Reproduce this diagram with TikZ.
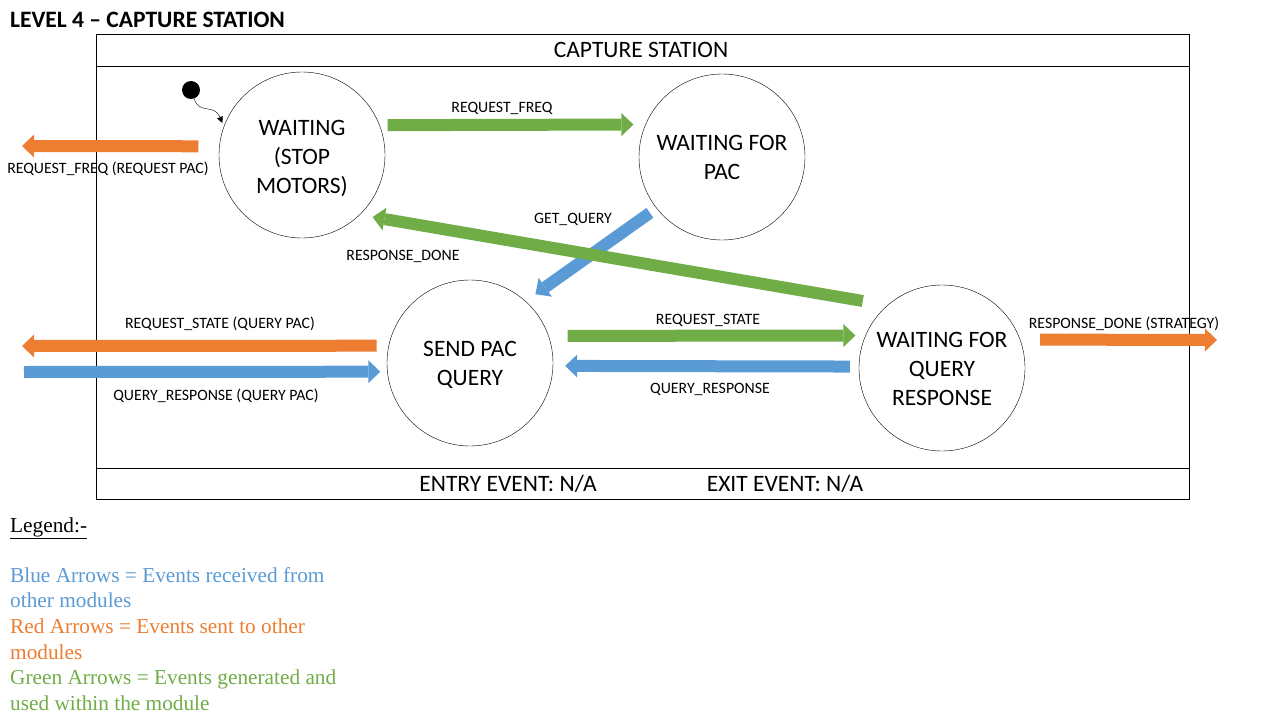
\documentclass[tikz,border=0pt]{standalone}
\usepackage{fontspec}
\setmainfont{Carlito}
\newfontfamily\legendfont{Liberation Serif}
\usetikzlibrary{arrows.meta}
\definecolor{arrblue}{RGB}{91,155,213}
\definecolor{arrorange}{RGB}{237,125,49}
\definecolor{arrgreen}{RGB}{112,173,71}
\tikzset{
    state/.style={circle, draw, minimum size=166pt, inner sep=0pt, align=center, font=\fontsize{23.5}{29}\selectfont},
    lbl/.style={inner sep=0pt, font=\fontsize{15.8}{18}\selectfont},
    bigtxt/.style={inner sep=0pt, font=\fontsize{23.5}{28}\selectfont},
    blockarr/.style={line width=12pt, -{Triangle[width=23pt, length=12pt, line width=0pt]}},
    bluearr/.style={blockarr, arrblue},
    greenarr/.style={blockarr, arrgreen},
    orangearr/.style={blockarr, arrorange}
}

\begin{document}
\begin{tikzpicture}[x=1pt, y=-1pt]
    \useasboundingbox (0,0) rectangle (1280,720);

    \node[anchor=west, inner sep=0pt, font=\bfseries\fontsize{23.5}{26}\selectfont] (title) at (10,19.5) {LEVEL 4 -- CAPTURE STATION};

    \draw (96,34) rectangle (1189,499);
    \draw (96,66) -- (1189,66);
    \draw (96,468) -- (1189,468);
    \node[bigtxt] (header) at (641,50) {CAPTURE STATION};
    \node[bigtxt] (entry) at (508,484) {ENTRY EVENT: N/A};
    \node[bigtxt] (exit) at (785,484) {EXIT EVENT: N/A};

    \node[state] (wait) at (302,155) {\rule{0pt}{22pt}WAITING\\(STOP\\MOTORS)};
    \node[state] (pac) at (722,157) {WAITING FOR\\PAC};
    \node[state] (send) at (470,363) {\rule{0pt}{19pt}SEND PAC\\QUERY};
    \node[state] (qresp) at (942,368) {\rule{0pt}{18pt}WAITING FOR\\QUERY\\RESPONSE};

    \node[circle, fill, minimum size=18pt, inner sep=0pt] (init) at (191,90) {};
    \draw[-{Triangle[length=6pt, width=6pt]}, shorten >=4pt] (init.290) .. controls (199,115) and (214,103) .. (wait.160);

    \coordinate (freqout) at (22,146);
    \coordinate (stateout) at (22,346);
    \coordinate (queryin) at (24,372);
    \coordinate (doneout) at (1217,340);

    \draw[orangearr, shorten <=21pt] (wait.174) -- (freqout);
    \draw[greenarr, shorten <=8pt, shorten >=12pt] (wait.21) -- (pac.157);
    \draw[bluearr, shorten <=8pt, shorten >=12pt] (pac.218) -- (send.48);
    \draw[greenarr, shorten <=25pt, shorten >=13pt] (qresp.131) -- (wait.314);
    \draw[orangearr, shorten <=12pt] (send.168) -- (stateout);
    \draw[bluearr, shorten >=7pt] (queryin) -- (send.186);
    \draw[greenarr, shorten <=19pt, shorten >=10pt] (send.19) -- (qresp.157);
    \draw[bluearr, shorten <=9pt, shorten >=12pt] (qresp.179) -- (send.358);
    \draw[orangearr, shorten <=20pt] (qresp.20) -- (doneout);

    \node[lbl] (lblfreqout) at (108,169) {REQUEST\_FREQ (REQUEST PAC)};
    \node[lbl] (lblfreq) at (502,108) {REQUEST\_FREQ};
    \node[lbl] (lblget) at (573,219) {GET\_QUERY};
    \node[lbl] (lbldone) at (403,256) {RESPONSE\_DONE};
    \node[lbl] (lblstateout) at (220,324) {REQUEST\_STATE (QUERY PAC)};
    \node[lbl] (lblqueryin) at (216,396) {QUERY\_RESPONSE (QUERY PAC)};
    \node[lbl] (lblstate) at (708,320) {REQUEST\_STATE};
    \node[lbl] (lblquery) at (710,389) {QUERY\_RESPONSE};
    \node[lbl] (lbldoneout) at (1124,324) {RESPONSE\_DONE (STRATEGY)};

    \node[anchor=base west, inner sep=0pt, font=\legendfont\fontsize{21.3}{25.6}\selectfont] (legendhead) at (10,532) {\underline{Legend:-}};
    \node[anchor=north west, inner sep=0pt, align=left, font=\legendfont\fontsize{21.3}{25.6}\selectfont] (legendtxt) at (10,567) {%
        \textcolor{arrblue}{Blue Arrows = Events received from}\\
        \textcolor{arrblue}{other modules}\\
        \textcolor{arrorange}{Red Arrows = Events sent to other}\\
        \textcolor{arrorange}{modules}\\
        \textcolor{arrgreen}{Green Arrows = Events generated and}\\
        \textcolor{arrgreen}{used within the module}};
\end{tikzpicture}
\end{document}
